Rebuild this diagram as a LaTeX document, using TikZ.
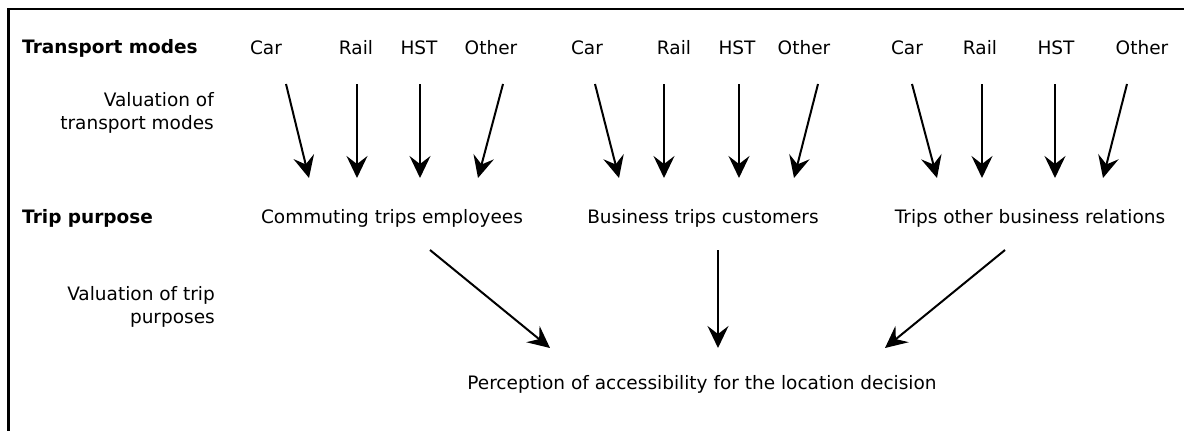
\documentclass[tikz,border=0pt]{standalone}
\usepackage{fontspec}
\setmainfont{DejaVu Sans}
\usetikzlibrary{arrows.meta}

\begin{document}
\begin{tikzpicture}[x=1pt,y=-1pt,
    lbl/.style={inner sep=0pt,font=\fontsize{18.5}{23}\selectfont},
    arr/.style={line width=2pt,-{Stealth[length=22pt,width=21pt,inset=8pt]}}]
    \useasboundingbox (0,0) rectangle (1184,431);
    \draw[line width=2.6pt] (8.5,431) -- (8.5,9) -- (1184,9);
    % row headings
    \node[lbl,anchor=west,font=\fontsize{18.5}{23}\selectfont\bfseries] (modes) at (22,48) {Transport modes};
    \node[lbl,anchor=east,align=right] (valmodes) at (214,113) {Valuation of\\transport modes};
    \node[lbl,anchor=west,font=\fontsize{18.5}{23}\selectfont\bfseries] (purpose) at (22,218) {Trip purpose};
    \node[lbl,anchor=east,align=right] (valpurp) at (215,307) {Valuation of trip\\purposes};
    % transport modes
    \node[lbl] (cara) at (266,48) {Car};
    \node[lbl] (raila) at (356,48) {Rail};
    \node[lbl] (hsta) at (419,48) {HST};
    \node[lbl] (othera) at (491,48) {Other};
    \node[lbl] (carb) at (587,48) {Car};
    \node[lbl] (railb) at (674,48) {Rail};
    \node[lbl] (hstb) at (737,48) {HST};
    \node[lbl] (otherb) at (804,48) {Other};
    \node[lbl] (carc) at (907,48) {Car};
    \node[lbl] (railc) at (980,48) {Rail};
    \node[lbl] (hstc) at (1056,48) {HST};
    \node[lbl] (otherc) at (1142,48) {Other};
    % trip purposes
    \node[lbl] (commute) at (392,218) {Commuting trips employees};
    \node[lbl] (business) at (703,218) {Business trips customers};
    \node[lbl] (relations) at (1030,218) {Trips other business relations};
    \node[lbl] (access) at (702,384) {Perception of accessibility for the location decision};
    % arrow ends
    \coordinate (ca1) at (286,84);   \coordinate (ca2) at (309,178);
    \coordinate (ra1) at (357,84);   \coordinate (ra2) at (357,178);
    \coordinate (ha1) at (420,84);   \coordinate (ha2) at (420,178);
    \coordinate (oa1) at (503,84);   \coordinate (oa2) at (478,178);
    \coordinate (cb1) at (595,84);   \coordinate (cb2) at (619,178);
    \coordinate (rb1) at (664,84);   \coordinate (rb2) at (664,178);
    \coordinate (hb1) at (739,84);   \coordinate (hb2) at (739,178);
    \coordinate (ob1) at (818,84);   \coordinate (ob2) at (794,178);
    \coordinate (cc1) at (912,84);   \coordinate (cc2) at (937,178);
    \coordinate (rc1) at (982,84);   \coordinate (rc2) at (982,178);
    \coordinate (hc1) at (1055,84);  \coordinate (hc2) at (1055,178);
    \coordinate (oc1) at (1127,84);  \coordinate (oc2) at (1103,178);
    \coordinate (cm1) at (430,250);  \coordinate (cm2) at (550,348);
    \coordinate (bs1) at (718,250);  \coordinate (bs2) at (718,348);
    \coordinate (rl1) at (1005,250); \coordinate (rl2) at (885,348);
    \draw[arr] (ca1) -- (ca2);
    \draw[arr] (ra1) -- (ra2);
    \draw[arr] (ha1) -- (ha2);
    \draw[arr] (oa1) -- (oa2);
    \draw[arr] (cb1) -- (cb2);
    \draw[arr] (rb1) -- (rb2);
    \draw[arr] (hb1) -- (hb2);
    \draw[arr] (ob1) -- (ob2);
    \draw[arr] (cc1) -- (cc2);
    \draw[arr] (rc1) -- (rc2);
    \draw[arr] (hc1) -- (hc2);
    \draw[arr] (oc1) -- (oc2);
    \draw[arr] (cm1) -- (cm2);
    \draw[arr] (bs1) -- (bs2);
    \draw[arr] (rl1) -- (rl2);
\end{tikzpicture}
\end{document}
